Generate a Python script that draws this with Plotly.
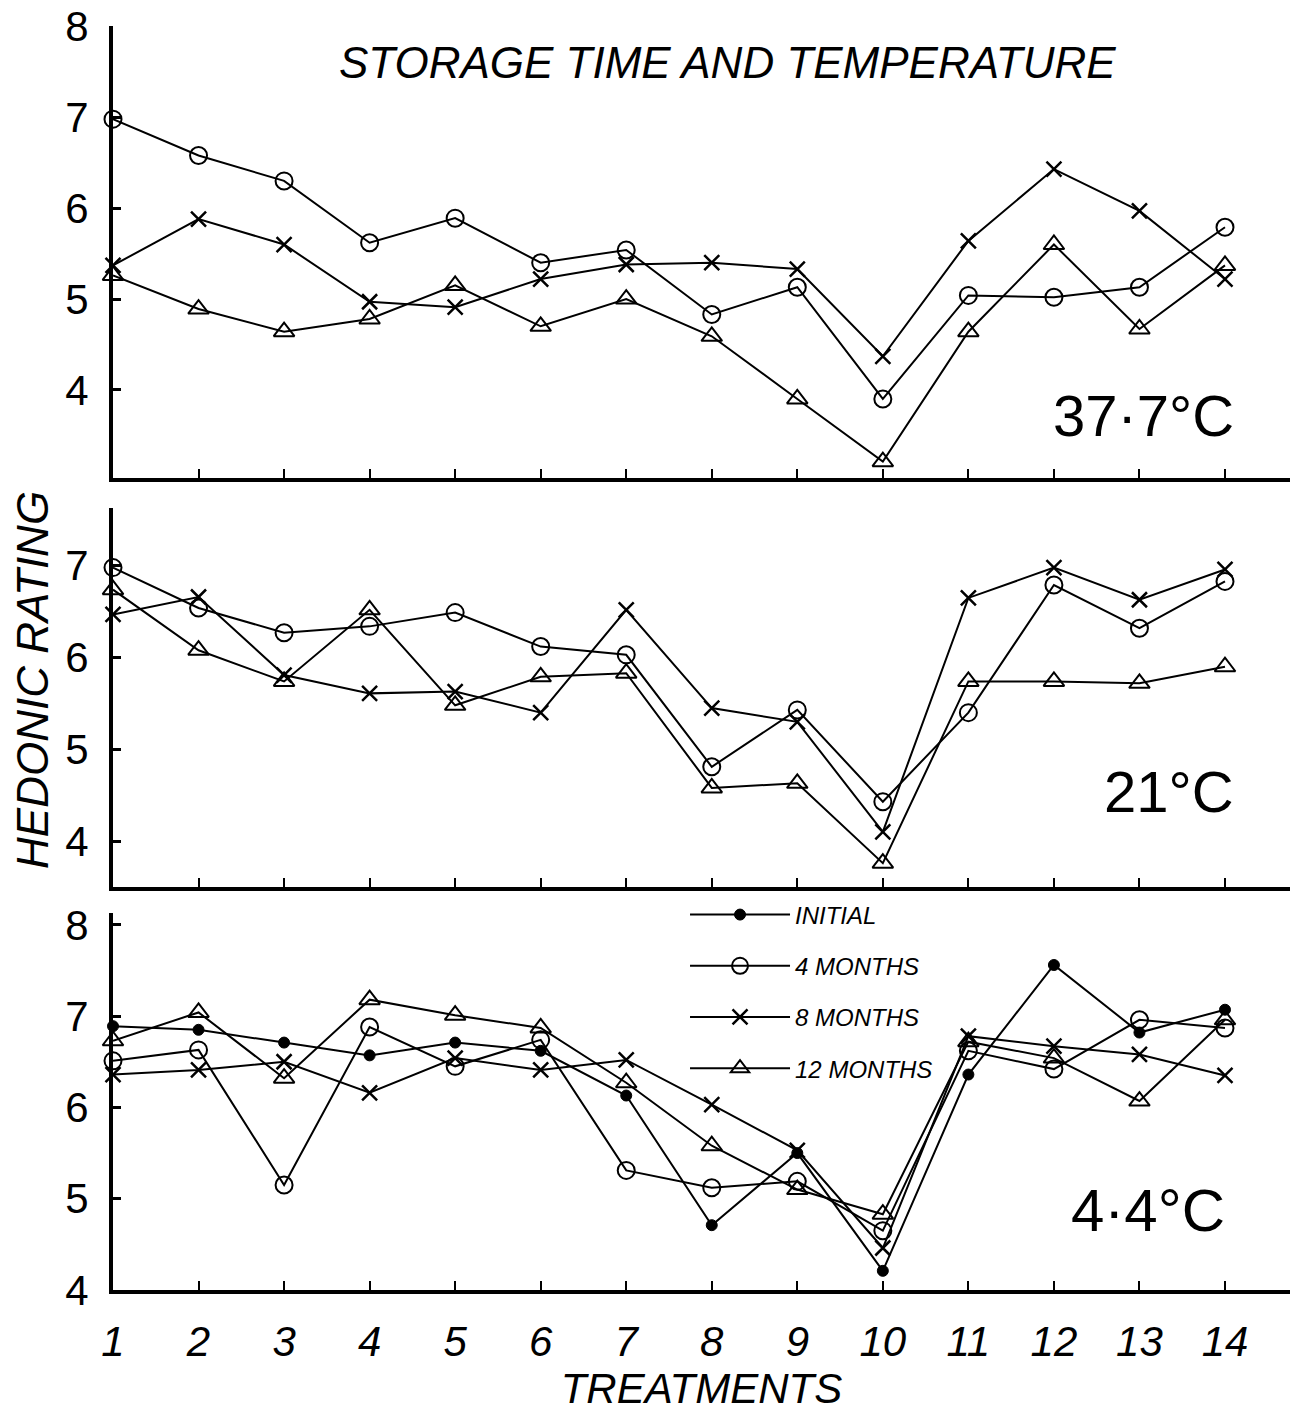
import plotly.graph_objects as go

# ---------------- data ----------------
treatments = list(range(1, 15))
tick_labels = [str(t) for t in treatments]

series_names = ["INITIAL", "4 MONTHS", "8 MONTHS", "12 MONTHS"]

# 37.7 C panel
hot_4m = [6.98, 6.58, 6.30, 5.62, 5.89, 5.40, 5.54, 4.83, 5.13, 3.90, 5.04, 5.02, 5.13, 5.79]
hot_8m = [5.37, 5.88, 5.60, 4.97, 4.91, 5.22, 5.38, 5.40, 5.33, 4.37, 5.64, 6.43, 5.97, 5.22]
hot_12m = [5.26, 4.89, 4.64, 4.78, 5.15, 4.70, 5.00, 4.59, 3.90, 3.21, 4.64, 5.60, 4.67, 5.37]

# 21 C panel
mid_4m = [6.98, 6.54, 6.27, 6.34, 6.49, 6.12, 6.03, 4.81, 5.43, 4.43, 5.40, 6.79, 6.32, 6.83]
mid_8m = [6.47, 6.66, 5.81, 5.61, 5.63, 5.40, 6.52, 5.45, 5.30, 4.10, 6.65, 6.98, 6.63, 6.96]
mid_12m = [6.74, 6.08, 5.74, 6.52, 5.48, 5.79, 5.83, 4.58, 4.63, 3.76, 5.74, 5.74, 5.72, 5.90]

# 4.4 C panel
cold_init = [6.89, 6.85, 6.71, 6.57, 6.71, 6.62, 6.13, 4.71, 5.50, 4.21, 6.36, 7.56, 6.82, 7.07]
cold_4m = [6.51, 6.63, 5.15, 6.88, 6.45, 6.74, 5.31, 5.12, 5.19, 4.65, 6.62, 6.42, 6.96, 6.87]
cold_8m = [6.36, 6.41, 6.50, 6.16, 6.54, 6.41, 6.52, 6.03, 5.53, 4.46, 6.78, 6.67, 6.58, 6.35]
cold_12m = [6.73, 7.04, 6.32, 7.18, 7.01, 6.87, 6.27, 5.58, 5.10, 4.83, 6.72, 6.54, 6.07, 6.96]

panel_labels = ["37·7°C", "21°C", "4·4°C"]
y_ticks_top = [4, 5, 6, 7, 8]
y_ticks_mid = [4, 5, 6, 7]
y_ticks_bot = [4, 5, 6, 7, 8]

# ---------------- styling ----------------
FONT = "Liberation Sans"
marker_styles = {
    "INITIAL": dict(symbol="circle", size=11, color="black", line=dict(color="black", width=1)),
    "4 MONTHS": dict(symbol="circle-open", size=17, color="black", line=dict(color="black", width=2)),
    "8 MONTHS": dict(symbol="x-thin-open", size=15, color="black", line=dict(color="black", width=2.5)),
    "12 MONTHS": dict(symbol="triangle-up-open", size=18, color="black", line=dict(color="black", width=2)),
}

panels = [
    ("x", "y", {"4 MONTHS": hot_4m, "8 MONTHS": hot_8m, "12 MONTHS": hot_12m}),
    ("x2", "y2", {"4 MONTHS": mid_4m, "8 MONTHS": mid_8m, "12 MONTHS": mid_12m}),
    ("x3", "y3", {"INITIAL": cold_init, "4 MONTHS": cold_4m, "8 MONTHS": cold_8m, "12 MONTHS": cold_12m}),
]

fig = go.Figure()
for xa, ya, data in panels:
    for name in series_names:
        if name not in data:
            continue
        fig.add_trace(go.Scatter(
            x=treatments, y=data[name], xaxis=xa, yaxis=ya,
            mode="lines+markers", name=name,
            line=dict(color="black", width=2),
            marker=marker_styles[name],
            cliponaxis=False,
            showlegend=(xa == "x3"), legendgroup=name,
        ))

common_x = dict(range=[1, 14.76], showline=True, linewidth=4, linecolor="black",
                ticks="inside", ticklen=9, tickwidth=2, tickcolor="black",
                tickvals=treatments, ticktext=tick_labels, automargin=False,
                ticklabeloverflow="allow",
                showgrid=False, zeroline=False)
common_y = dict(showline=True, linewidth=4, linecolor="black",
                ticks="inside", ticklen=8, tickwidth=3, tickcolor="black",
                showgrid=False, zeroline=False, ticklabelstandoff=12, automargin=False,
                ticklabeloverflow="allow",
                tickfont=dict(family=FONT, size=42, color="black"))

fig.update_layout(
    width=1307, height=1416,
    margin=dict(l=113, r=17, t=26, b=126),
    plot_bgcolor="white", paper_bgcolor="white",
    xaxis=dict(common_x, anchor="y", domain=[0, 1], showticklabels=False),
    xaxis2=dict(common_x, anchor="y2", domain=[0, 1], matches="x", showticklabels=False),
    xaxis3=dict(common_x, anchor="y3", domain=[0, 1], matches="x", showticklabels=True,
                ticklabelstandoff=12,
                tickfont=dict(family=FONT, size=42, color="black", style="italic"),
                title=dict(text="TREATMENTS", standoff=8,
                           font=dict(family=FONT, size=42, color="black", style="italic"))),
    yaxis=dict(common_y, anchor="x", domain=[0.6424, 1.0], range=[3.03, 8.005], tickvals=y_ticks_top),
    yaxis2=dict(common_y, anchor="x2", domain=[0.3188, 0.6187], range=[3.5, 7.63], tickvals=y_ticks_mid),
    yaxis3=dict(common_y, anchor="x3", domain=[0.0, 0.2983], range=[4.0, 8.13], tickvals=y_ticks_bot),
    legend=dict(x=0.486, y=0.3145, xanchor="left", yanchor="top",
                font=dict(family=FONT, size=24, color="black", style="italic"),
                tracegroupgap=17, itemwidth=100, bgcolor="rgba(0,0,0,0)"),
    showlegend=True,
)

annotations = [
    dict(text="STORAGE TIME AND TEMPERATURE", xref="paper", yref="paper", x=0.522, y=0.9715,
         xanchor="center", yanchor="middle",
         showarrow=False, font=dict(family=FONT, size=44, color="black", style="italic")),
    dict(text="HEDONIC RATING", xref="paper", yref="paper", x=-0.068, y=0.4826, textangle=-90,
         xanchor="center", yanchor="middle",
         showarrow=False, font=dict(family=FONT, size=44, color="black", style="italic")),
    dict(text=panel_labels[0], xref="x", yref="y", x=13.05, y=3.72, showarrow=False,
         xanchor="center", yanchor="middle", font=dict(family=FONT, size=58, color="black")),
    dict(text=panel_labels[1], xref="x2", yref="y2", x=13.34, y=4.54, showarrow=False,
         xanchor="center", yanchor="middle", font=dict(family=FONT, size=58, color="black")),
    dict(text=panel_labels[2], xref="x3", yref="y3", x=13.1, y=4.87, showarrow=False,
         xanchor="center", yanchor="middle", font=dict(family=FONT, size=60, color="black")),
]
fig.update_layout(annotations=annotations)

fig.write_html("out.html")
